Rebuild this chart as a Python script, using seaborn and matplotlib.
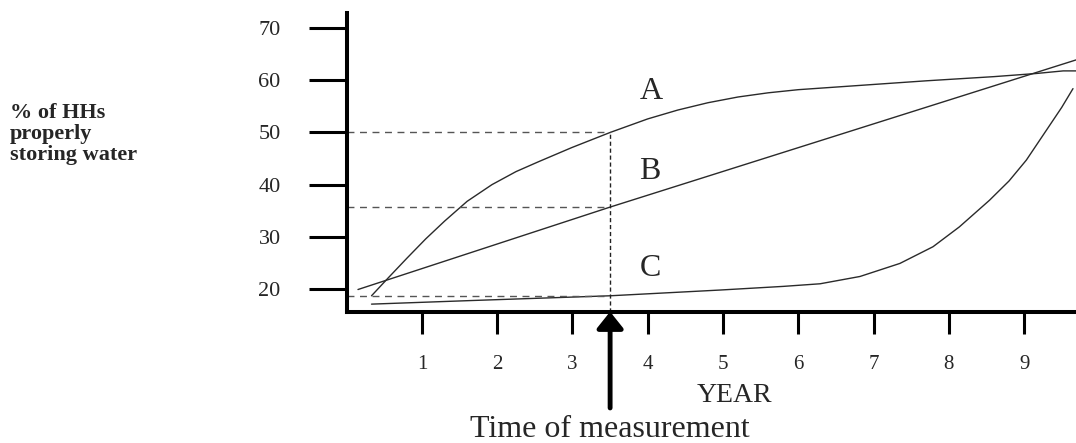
import numpy as np
import pandas as pd
import matplotlib
matplotlib.use("Agg")
import matplotlib.pyplot as plt
import seaborn as sns

# curves (year, % of households)
year_a = [0.33, 0.55, 0.80, 1.05, 1.30, 1.60, 1.93, 2.25, 2.55, 2.99, 3.50,
          4.00, 4.40, 4.80, 5.20, 5.60, 6.00, 6.50, 7.00, 7.70, 8.60, 9.16, 9.52, 9.69]
pct_a = [18.7, 22.1, 25.9, 29.6, 33.0, 36.8, 40.0, 42.5, 44.4, 47.1, 50.0,
         52.6, 54.3, 55.7, 56.8, 57.6, 58.2, 58.7, 59.2, 59.9, 60.7, 61.3, 61.8, 61.8]

year_b = [0.15, 3.50, 9.69]
pct_b = [19.9, 35.7, 63.9]

year_c = [0.33, 1.68, 3.50, 4.96, 5.80, 6.29, 6.82, 7.35, 7.79, 8.14, 8.54,
          8.80, 9.03, 9.30, 9.50, 9.65]
pct_c = [17.1, 17.8, 18.7, 19.8, 20.5, 21.0, 22.4, 24.9, 28.1, 31.9, 37.0,
         40.7, 44.7, 50.5, 54.8, 58.4]

curve_names = ["A", "B", "C"]
label_year = [4.05, 4.03, 4.03]
label_pct = [57.8, 42.5, 24.0]

# time of measurement and the values read at that time
t_measure = 3.5
read_values = [50.0, 35.7, 18.7]

x_ticks = list(range(1, 10))
y_ticks = [20, 30, 40, 50, 60, 70]

df = pd.concat([
    pd.DataFrame({"year": year_a, "pct": pct_a, "curve": "A"}),
    pd.DataFrame({"year": year_b, "pct": pct_b, "curve": "B"}),
    pd.DataFrame({"year": year_c, "pct": pct_c, "curve": "C"}),
])

sns.set_style("white")
plt.rcParams["font.family"] = ["Liberation Serif", "DejaVu Serif"]

fig = plt.figure(figsize=(10.76, 4.43), dpi=100)
ax = fig.add_axes([0.3222, 0.2964, 0.6778, 0.6743])

for name in curve_names:
    sns.lineplot(data=df[df["curve"] == name], x="year", y="pct", ax=ax,
                 sort=False, estimator=None, color="#2a2a2a", lw=1.0)

ax.set_xlim(0, 9.69)
ax.set_ylim(15.65, 72.9)

# guide lines from the y axis to the time of measurement
for v in read_values:
    ax.plot([0, t_measure], [v, v], color="#555555", lw=1.0, ls=(0, (5, 4)))
ax.plot([t_measure, t_measure], [15.65, max(read_values)], color="#222222",
        lw=1.0, ls=(0, (3, 2)))

for name, xx, yy in zip(curve_names, label_year, label_pct):
    ax.text(xx, yy, name, ha="center", va="center", fontsize=23)

ax.annotate("", xy=(t_measure, 15.65), xytext=(t_measure, -2.8),
            xycoords="data", annotation_clip=False,
            arrowprops=dict(arrowstyle="-|>,head_length=0.25,head_width=0.2",
                            lw=3.5, color="black", shrinkA=0, shrinkB=0,
                            mutation_scale=40))

sns.despine(ax=ax)
for side in ["left", "bottom"]:
    ax.spines[side].set_linewidth(2.9)
    ax.spines[side].set_color("black")

ax.set_xticks(x_ticks)
ax.set_yticks(y_ticks)
ax.tick_params(axis="y", direction="out", length=27.5, width=2.2,
               pad=20, labelsize=16, color="black", left=True)
ax.tick_params(axis="x", direction="out", length=16, width=2.2,
               pad=15, labelsize=15, color="black", bottom=True)
ax.set_xlabel("")
ax.set_ylabel("")

fig.text(10 / 1076, 1 - 103 / 443, "% of HHs\nproperly\nstoring water",
         ha="left", va="top", fontsize=16, fontweight="bold", linespacing=1.08)
fig.text(734 / 1076, 1 - 402 / 443, "YEAR", ha="center", va="baseline", fontsize=20)
fig.text(610 / 1076, 1 - 437 / 443, "Time of measurement", ha="center",
         va="baseline", fontsize=23)

fig.savefig("out.png", dpi=100)
